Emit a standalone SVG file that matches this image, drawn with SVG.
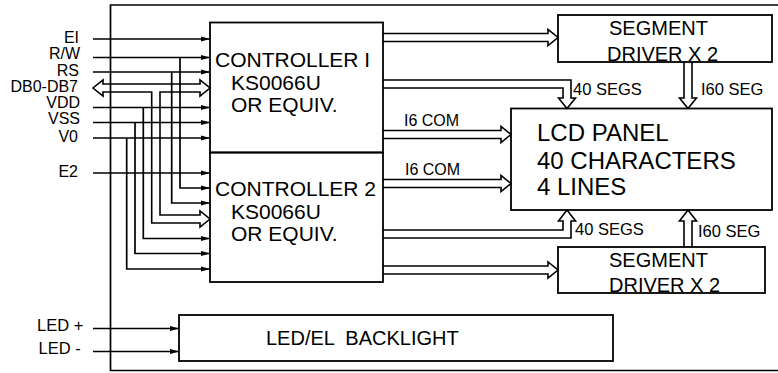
<svg xmlns="http://www.w3.org/2000/svg" width="778" height="373" viewBox="0 0 778 373">
<defs>
<marker id="ah" markerUnits="userSpaceOnUse" markerWidth="10" markerHeight="6" refX="9" refY="3" orient="auto">
<path d="M0,0.6 L9,3 L0,5.4 Z" fill="#000"/>
</marker>
</defs>
<style>
text{font-family:"Liberation Sans",Arial,sans-serif;fill:#000}
.box{fill:none;stroke:#000;stroke-width:1.8}
.ln{fill:none;stroke:#000;stroke-width:1.7}
.arr{fill:none;stroke:#000;stroke-width:1.7;marker-end:url(#ah)}
.bus{fill:none;stroke:#000;stroke-width:1.6;stroke-linejoin:miter}
.lbl{font-size:16px}
.big{font-size:21px}
.mid{font-size:20px}
.lcd{font-size:24px}
.sm{font-size:16.5px}
</style>
<rect width="778" height="373" fill="#fff"/>
<g id="frame"><path class="ln" d="M778,5 H110.5 V370.5 H778"/></g>
<g id="controller1">
<rect class="box" x="210" y="22.5" width="173" height="130"/>
<text class="big" x="215" y="67">CONTROLLER I</text>
<text class="big" x="231" y="90">KS0066U</text>
<text class="big" x="231" y="112">OR EQUIV.</text>
</g>
<g id="controller2">
<rect class="box" x="210" y="152.5" width="173" height="129.5"/>
<text class="big" x="215" y="196">CONTROLLER 2</text>
<text class="big" x="231" y="219">KS0066U</text>
<text class="big" x="231" y="241">OR EQUIV.</text>
</g>
<g id="segment-driver-top">
<rect class="box" x="558" y="15" width="214" height="47"/>
<text class="mid" x="609" y="35">SEGMENT</text>
<text class="mid" x="607" y="61">DRIVER X 2</text>
</g>
<g id="lcd-panel">
<rect class="box" x="511" y="108.5" width="261" height="101.5"/>
<text class="lcd" x="537" y="141">LCD PANEL</text>
<text class="lcd" x="537" y="168.5">40 CHARACTERS</text>
<text class="lcd" x="537" y="195">4 LINES</text>
</g>
<g id="segment-driver-bottom">
<rect class="box" x="558" y="247" width="207" height="46"/>
<text class="mid" x="609" y="267">SEGMENT</text>
<text class="mid" x="609" y="292">DRIVER X 2</text>
</g>
<g id="backlight">
<rect class="box" x="179" y="315" width="434" height="46"/>
<text class="mid" x="266" y="345" xml:space="preserve">LED/EL  BACKLIGHT</text>
</g>
<g id="inputs" text-anchor="end">
<text class="lbl" x="79" y="43">EI</text>
<text class="lbl" x="80" y="59">R/W</text>
<text class="lbl" x="79" y="75.5">RS</text>
<text class="lbl" x="78" y="92">DB0-DB7</text>
<text class="lbl" x="80" y="108">VDD</text>
<text class="lbl" x="80" y="124">VSS</text>
<text class="lbl" x="78" y="141.5">V0</text>
<text class="lbl" x="78" y="176.5">E2</text>
</g>
<g id="led-inputs">
<text class="sm" x="37" y="331">LED +</text>
<text class="sm" x="38.5" y="353.5">LED -</text>
</g>
<g id="connectors">
<path class="arr" d="M93,39 H210"/>
<path class="arr" d="M93,57.5 H210"/>
<path class="arr" d="M93,72 H210"/>
<path class="arr" d="M93,107.5 H210"/>
<path class="arr" d="M93,122.5 H210"/>
<path class="arr" d="M93,138 H210"/>
<path class="arr" d="M93,173 H210"/>
<path class="arr" d="M180,57.5 V188 H210"/>
<path class="arr" d="M171.7,72 V203 H210"/>
<path class="arr" d="M143.3,107.5 V238.5 H210"/>
<path class="arr" d="M135,122.5 V253.5 H210"/>
<path class="arr" d="M126.7,138 V269 H210"/>
<path class="bus" d="M103,84 H200 V80 L210,88 L200,96 V92 H160 V215 H200 V211 L210,219 L200,227 V223 H151.7 V92 H103 V96 L93,88 L103,80 Z"/>
<path class="bus" d="M383,33.5 H548 V29.5 L558,37.5 L548,45.5 V41.5 H383"/>
<path class="bus" d="M383,80 H571 V98 H575.5 L567,108.5 L558.5,98 H563 V88 H383"/>
<path class="bus" d="M383,130.5 H501 V126.5 L511,134.5 L501,142.5 V138.5 H383"/>
<path class="bus" d="M383,179.5 H501 V175.5 L511,183.5 L501,191.5 V187.5 H383"/>
<path class="bus" d="M383,238 H571 V221 H575.5 L567,210 L558.5,221 H563 V230 H383"/>
<path class="bus" d="M383,266 H548 V262 L558,270 L548,278 V274 H383"/>
<path class="bus" d="M684,62 V98 H679.5 L688,108.5 L696.5,98 H692 V62"/>
<path class="bus" d="M684,247 V221 H679.5 L688,210 L696.5,221 H692 V247"/>
<path class="arr" d="M93,328.5 H179"/>
<path class="arr" d="M93,351.5 H179"/>
<text class="sm" x="573" y="95">40 SEGS</text>
<text class="sm" x="701" y="95">I60 SEG</text>
<text class="lbl" x="404" y="126">I6 COM</text>
<text class="lbl" x="405" y="175">I6 COM</text>
<text class="sm" x="575" y="235">40 SEGS</text>
<text class="sm" x="698" y="237">I60 SEG</text>
</g>
</svg>
